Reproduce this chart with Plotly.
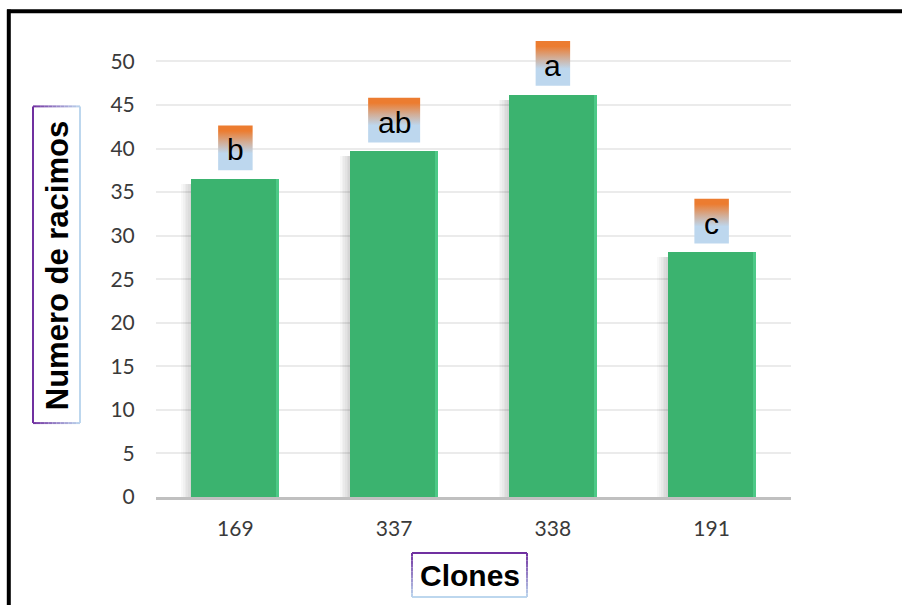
import plotly.graph_objects as go

# Data: number of clusters per grapevine clone, with significance letters
clones = ["169", "337", "338", "191"]
racimos = [36.5, 39.7, 46.2, 28.1]
letras = ["b", "ab", "a", "c"]
y_ticks = [0, 5, 10, 15, 20, 25, 30, 35, 40, 45, 50]
Y_TOP = 53.5  # headroom above the last tick for the letter boxes

# Canvas and plot-area geometry (pixels)
W, H = 902, 605
Y_PX_PER_UNIT = 8.7
M_L, M_R, M_B = 156, 111, 108
M_T = 61 - (Y_TOP - y_ticks[-1]) * Y_PX_PER_UNIT
PW, PH = W - M_L - M_R, H - M_T - M_B
X_RANGE = [-0.5, len(clones) - 0.5]
PX_PER_UNIT = PW / (X_RANGE[1] - X_RANGE[0])

BAR_W = 88 / PX_PER_UNIT
GREEN = "#3BB36F"
GREEN_EDGE = "#4DC987"
PURPLE = "#7030A0"
LIGHT_BLUE = "#BDD7EE"
ORANGE = "#EC7C30"


def px_x(px):
    return (px - M_L) / PW


def px_y(py):
    return (H - M_B - py) / PH


def mix(c1, c2, t):
    a = [int(c1[i:i + 2], 16) for i in (1, 3, 5)]
    b = [int(c2[i:i + 2], 16) for i in (1, 3, 5)]
    return "rgb({},{},{})".format(*[round(a[k] + (b[k] - a[k]) * t) for k in range(3)])


idx = list(range(len(clones)))
fig = go.Figure()

# soft drop shadow on the left of each bar
for k in range(1, 7):
    fig.add_trace(go.Bar(
        x=idx, y=[v - 0.6 for v in racimos], width=BAR_W,
        offset=-BAR_W / 2 - k * 1.7 / PX_PER_UNIT,
        marker=dict(color="rgba(0,0,0,0.028)", line=dict(width=0)),
        hoverinfo="skip", showlegend=False))

# main bars
fig.add_trace(go.Bar(
    x=idx, y=racimos, width=BAR_W, offset=-BAR_W / 2,
    marker=dict(color=GREEN, line=dict(width=0)),
    showlegend=False))

# lighter strip along the right edge of each bar
strip = 3 / PX_PER_UNIT
fig.add_trace(go.Bar(
    x=idx, y=racimos, width=strip, offset=BAR_W / 2 - strip,
    marker=dict(color=GREEN_EDGE, line=dict(width=0)),
    hoverinfo="skip", showlegend=False))

# significance letters in gradient boxes above the bars
annotations = []
gap, box_h = 1.0, 5.15
for i, v, lab in zip(idx, racimos, letras):
    half = (17 + 17.5 * len(lab)) / 2 / PX_PER_UNIT
    y0, y1 = v + gap, v + gap + box_h
    fig.add_trace(go.Scatter(
        x=[i - half, i + half, i + half, i - half, i - half],
        y=[y0, y0, y1, y1, y0],
        mode="lines", fill="toself", line=dict(width=0),
        fillgradient=dict(type="vertical", start=y0, stop=y1,
                          colorscale=[[0, LIGHT_BLUE], [0.38, LIGHT_BLUE],
                                      [0.62, mix(LIGHT_BLUE, ORANGE, 0.45)],
                                      [0.88, ORANGE], [1, ORANGE]]),
        hoverinfo="skip", showlegend=False))
    annotations.append(dict(
        x=i, y=(y0 + y1) / 2, xref="x", yref="y", text=lab, showarrow=False,
        xanchor="center", yanchor="middle",
        font=dict(family="Liberation Sans, Arial", size=30, color="#000000"),
        yshift=-2))

# axis titles
annotations.append(dict(
    x=px_x(57), y=px_y(265), xref="paper", yref="paper", text="<b>Numero de racimos</b>",
    textangle=-90, showarrow=False, xanchor="center", yanchor="middle",
    font=dict(family="Liberation Sans, Arial", size=31, color="#000000")))
annotations.append(dict(
    x=px_x(470), y=px_y(576), xref="paper", yref="paper", text="<b>Clones</b>",
    showarrow=False, xanchor="center", yanchor="middle",
    font=dict(family="Liberation Sans, Arial", size=30, color="#000000")))

shapes = []


def seg(x0, y0, x1, y1, color, w=2):
    shapes.append(dict(type="line", xref="paper", yref="paper",
                       x0=px_x(x0), y0=px_y(y0), x1=px_x(x1), y1=px_y(y1),
                       line=dict(color=color, width=w)))


# border of the y title box: purple on the left fading to light blue on the right
bx0, by0, bx1, by1 = 33, 106, 80, 423
seg(bx0, by0, bx0, by1, PURPLE)
seg(bx1, by0, bx1, by1, LIGHT_BLUE)
n = 12
for k in range(n):
    xa = bx0 + (bx1 - bx0) * k / n
    xb = bx0 + (bx1 - bx0) * (k + 1) / n
    c = mix(PURPLE, LIGHT_BLUE, (k + 0.5) / n)
    seg(xa, by0, xb, by0, c)
    seg(xa, by1, xb, by1, c)

# border of the x title box: purple on top fading to light blue at the bottom
cx0, cy0, cx1, cy1 = 412, 553, 527, 597
seg(cx0, cy0, cx1, cy0, PURPLE)
seg(cx0, cy1, cx1, cy1, LIGHT_BLUE)
for k in range(n):
    ya = cy0 + (cy1 - cy0) * k / n
    yb = cy0 + (cy1 - cy0) * (k + 1) / n
    c = mix(PURPLE, LIGHT_BLUE, (k + 0.5) / n)
    seg(cx0, ya, cx0, yb, c)
    seg(cx1, ya, cx1, yb, c)

# black frame along the top and left edges
seg(7, 10.8, W, 10.8, "#000000", 4)
seg(8.8, 9, 8.8, H, "#000000", 4)

fig.update_layout(
    width=W, height=H,
    margin=dict(l=M_L, r=M_R, t=M_T, b=M_B, pad=0),
    paper_bgcolor="#FFFFFF", plot_bgcolor="#FFFFFF",
    barmode="overlay", bargap=0,
    showlegend=False,
    annotations=annotations,
    shapes=shapes,
    xaxis=dict(
        range=X_RANGE, tickmode="array", tickvals=idx, ticktext=clones,
        showgrid=False, zeroline=False,
        showline=True, linecolor="#C0C0C0", linewidth=2.5,
        ticks="outside", ticklen=11, tickcolor="rgba(0,0,0,0)",
        tickfont=dict(family="Lato, Open Sans", size=21, color="#3A3A3A"),
        fixedrange=True),
    yaxis=dict(
        range=[y_ticks[0], Y_TOP], tickmode="array", tickvals=y_ticks,
        showgrid=True, gridcolor="#EBEBEB", gridwidth=1.5, zeroline=False,
        showline=False,
        ticks="outside", ticklen=16, tickcolor="rgba(0,0,0,0)",
        tickfont=dict(family="Lato, Open Sans", size=21, color="#3A3A3A"),
        fixedrange=True),
)

fig.write_html("out.html")
